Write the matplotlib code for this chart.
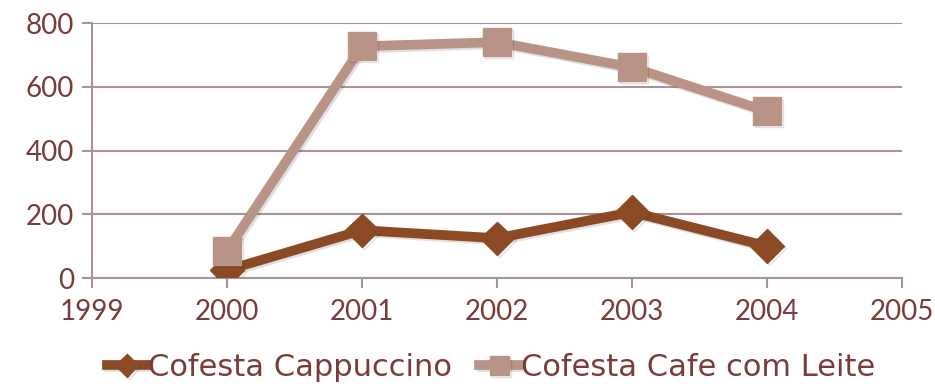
import matplotlib.pyplot as plt
import matplotlib.patheffects as pe

years = [2000, 2001, 2002, 2003, 2004]
cappuccino = [25, 150, 125, 207, 100]
cafe_com_leite = [85, 727, 740, 661, 523]
x_ticks = [1999, 2000, 2001, 2002, 2003, 2004, 2005]
y_ticks = [0, 200, 400, 600, 800]

text_color = '#7a3b3b'
grid_color = '#a89494'

plt.rcParams['font.family'] = ['Lato', 'DejaVu Sans']

fig = plt.figure(figsize=(9.35, 3.9), dpi=100)
ax = fig.add_axes([0.0984, 0.287, 0.8663, 0.654])

shadow = [pe.SimpleLineShadow(offset=(1.5, -1.5), alpha=0.12), pe.Normal()]
ax.plot(years, cappuccino, color='#8b4a24', lw=7, marker='D', markersize=17,
        label='Cofesta Cappuccino', path_effects=shadow, zorder=3)
ax.plot(years, cafe_com_leite, color='#b99486', lw=7, marker='s', markersize=20,
        label='Cofesta Cafe com Leite', path_effects=shadow, zorder=3)

ax.set_xlim(1999, 2005)
ax.set_ylim(0, 800)
ax.set_xticks(x_ticks)
ax.set_yticks(y_ticks)
ax.grid(axis='y', color=grid_color, lw=1.5)
ax.set_axisbelow(True)
for s in ['top', 'right']:
    ax.spines[s].set_visible(False)
for s in ['left', 'bottom']:
    ax.spines[s].set_color(grid_color)
    ax.spines[s].set_linewidth(1.5)
ax.tick_params(colors=grid_color, labelcolor=text_color, labelsize=20,
               length=7, width=1.5, direction='out')
ax.tick_params(axis='x', pad=8)
ax.tick_params(axis='y', pad=6)

leg = fig.legend(loc='lower center', bbox_to_anchor=(0.525, -0.05), ncol=2,
                 frameon=False, handlelength=1.3, columnspacing=0.9,
                 handletextpad=0.05, markerscale=0.7,
                 prop={'family': 'DejaVu Sans', 'size': 22})
for t in leg.get_texts():
    t.set_color(text_color)

fig.savefig('out.png', dpi=100)
